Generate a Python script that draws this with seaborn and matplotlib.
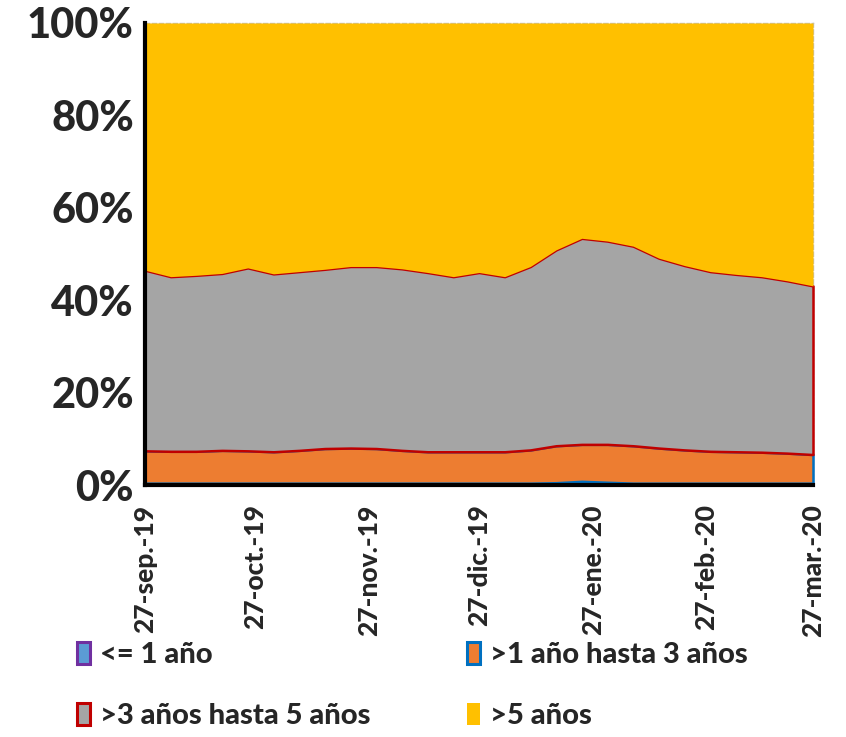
import pandas as pd
import numpy as np
import matplotlib
matplotlib.use("Agg")
import matplotlib.pyplot as plt
import matplotlib.dates as mdates
from matplotlib.patches import Patch
from matplotlib.ticker import PercentFormatter
import seaborn as sns

# Weekly shares (%) by residual maturity
dates = pd.date_range("2019-09-27", "2020-03-27", freq="7D")
hasta_1 = [0.4, 0.4, 0.4, 0.4, 0.4, 0.4, 0.4, 0.4, 0.4, 0.4, 0.4, 0.4, 0.4, 0.4,
           0.4, 0.4, 0.5, 0.8, 0.6, 0.4, 0.4, 0.4, 0.4, 0.4, 0.4, 0.4, 0.4]
de_1_a_3 = [7.0, 6.9, 6.9, 7.1, 7.0, 6.8, 7.1, 7.5, 7.6, 7.5, 7.1, 6.8, 6.8, 6.8,
            6.8, 7.2, 8.0, 8.0, 8.2, 8.1, 7.6, 7.2, 6.9, 6.8, 6.7, 6.5, 6.2]
de_3_a_5 = [39.1, 37.8, 38.1, 38.3, 39.6, 38.5, 38.7, 38.8, 39.3, 39.4, 39.3, 38.8,
            37.9, 38.8, 37.9, 39.7, 42.4, 44.6, 44.0, 43.2, 41.1, 39.9, 38.9, 38.4,
            38.0, 37.3, 36.5]
mas_5 = [53.5, 54.9, 54.6, 54.2, 53.0, 54.3, 53.8, 53.3, 52.7, 52.7, 53.2, 54.0,
         54.9, 54.0, 54.9, 52.7, 49.1, 46.6, 47.2, 48.3, 50.9, 52.5, 53.8, 54.4,
         54.9, 55.8, 56.9]

series_labels = ["<= 1 año", ">1 año hasta 3 años", ">3 años hasta 5 años", ">5 años"]
fill_colors = ["#5B9BD5", "#ED7D31", "#A5A5A5", "#FFC000"]
edge_colors = ["#7030A0", "#0070C0", "#C00000", "#FFC000"]

tick_dates = pd.to_datetime(["2019-09-27", "2019-10-27", "2019-11-27", "2019-12-27",
                             "2020-01-27", "2020-02-27", "2020-03-27"])
tick_labels = ["27-sep.-19", "27-oct.-19", "27-nov.-19", "27-dic.-19",
               "27-ene.-20", "27-feb.-20", "27-mar.-20"]

df = pd.DataFrame({
    "fecha": dates,
    series_labels[0]: hasta_1,
    series_labels[1]: de_1_a_3,
    series_labels[2]: de_3_a_5,
    series_labels[3]: mas_5,
})
shares = df[series_labels].div(df[series_labels].sum(axis=1), axis=0) * 100

sns.set_theme(style="white")
plt.rcParams["font.family"] = ["Lato", "DejaVu Sans"]

fig = plt.figure(figsize=(8.46, 7.37), dpi=100)
ax = fig.add_axes([0.1714, 0.3419, 0.7896, 0.6269])

polys = ax.stackplot(df["fecha"], *[shares[c] for c in series_labels],
                     colors=fill_colors, linewidth=1.8)
for p, ec, lab in zip(polys, edge_colors, series_labels):
    p.set_edgecolor(ec)
    p.set_clip_on(False)
    if lab == ">5 años":
        p.set_linewidth(0)

ax.set_xlim(df["fecha"].iloc[0], df["fecha"].iloc[-1])
ax.set_ylim(0, 100)
ax.set_yticks([0, 20, 40, 60, 80, 100])
ax.yaxis.set_major_formatter(PercentFormatter(decimals=0))
ax.set_xticks(tick_dates)
ax.set_xticklabels(tick_labels, rotation=90, fontsize=19, fontweight="black")
for t in ax.get_yticklabels():
    t.set_fontsize(30)
    t.set_fontweight("black")

ax.tick_params(axis="both", direction="in", length=8, width=2.5, color="black")
ax.tick_params(axis="y", pad=8)
ax.tick_params(axis="x", pad=14)

for side in ["left", "bottom"]:
    ax.spines[side].set_color("black")
    ax.spines[side].set_linewidth(3)
    ax.spines[side].set_zorder(5)
for side in ["top", "right"]:
    ax.spines[side].set_color("#BFBFBF")
    ax.spines[side].set_linewidth(1)
    ax.spines[side].set_linestyle((0, (3, 2)))
    ax.spines[side].set_zorder(0.5)

handles = [Patch(facecolor=fc, edgecolor=ec, linewidth=2.2, label=lab)
           for fc, ec, lab in zip(fill_colors, edge_colors, series_labels)]
handles[3] = Patch(facecolor=fill_colors[3], edgecolor="none", label=series_labels[3])
order = [0, 2, 1, 3]
fig.legend([handles[i] for i in order], [series_labels[i] for i in order],
           loc="upper left", bbox_to_anchor=(0.077, 0.145), ncol=2, frameon=False,
           prop={"weight": "black", "size": 21},
           handlelength=0.45, handleheight=0.8, handletextpad=0.35,
           labelspacing=1.2, columnspacing=3.3, borderaxespad=0)

fig.savefig("out.png", dpi=100)
